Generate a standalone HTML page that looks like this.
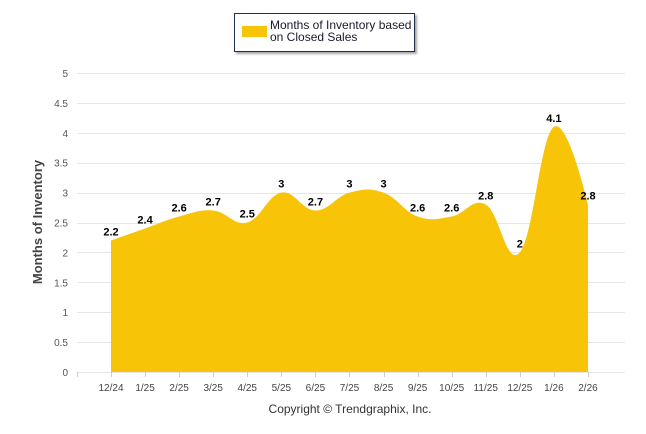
<!DOCTYPE html>
<html><head><meta charset="utf-8"><style>
body{margin:0;background:#fff;}
svg{display:block;font-family:"Liberation Sans",Arial,sans-serif;}
</style></head><body>
<svg id="c" width="646" height="434">
<g>
<rect x="234.5" y="13.5" width="180" height="38" fill="#fff" stroke="#1f2d4f" stroke-width="1" filter="drop-shadow(2px 2px 1px rgba(0,0,0,0.35))"/>
<rect x="242" y="26" width="25" height="11" fill="#f7c408"/>
<text x="270" y="29" font-size="12" fill="#1a1a2a">Months of Inventory based</text>
<text x="270" y="41" font-size="12" fill="#1a1a2a">on Closed Sales</text>
</g>
<g id="grid"></g>
<g id="area"></g>
<g id="labels"></g>
<text transform="translate(42,222) rotate(-90)" text-anchor="middle" font-size="13" font-weight="bold" fill="#444">Months of Inventory</text>
<text x="350" y="413" text-anchor="middle" font-size="12" fill="#333">Copyright © Trendgraphix, Inc.</text>
</svg>
<script>
const categories=["12/24","1/25","2/25","3/25","4/25","5/25","6/25","7/25","8/25","9/25","10/25","11/25","12/25","1/26","2/26"];
const values=[2.2,2.4,2.6,2.7,2.5,3,2.7,3,3,2.6,2.6,2.8,2,4.1,2.8];
const yTicks=[0,0.5,1,1.5,2,2.5,3,3.5,4,4.5,5];
const NS="http://www.w3.org/2000/svg";
const x=i=>111+i*34.07, y=v=>372-v*59.8;
function mk(t,a,p){const e=document.createElementNS(NS,t);for(const k in a)e.setAttribute(k,a[k]);p.appendChild(e);return e;}
const grid=document.getElementById('grid');
yTicks.forEach(t=>{
 const l=mk('line',{x1:77,x2:625,y1:Math.round(y(t))+0.5,y2:Math.round(y(t))+0.5,stroke:'#e6e6e6'},grid);
 
 
 const tx=mk('text',{x:68,y:y(t)+4,'text-anchor':'end','font-size':'10',fill:'#555'},grid);
 tx.textContent=String(t);
 
 
});
mk('line',{x1:77.5,x2:77.5,y1:372,y2:377,stroke:'#ccc'},grid);
categories.forEach((c,i)=>{
 mk('line',{x1:Math.round(x(i))+0.5,x2:Math.round(x(i))+0.5,y1:372,y2:377,stroke:'#ccc'},grid);
 const tx=mk('text',{x:x(i),y:391,'text-anchor':'middle','font-size':'10',fill:'#444'},grid);
 tx.textContent=c;
 
 
});
const pts=values.map((v,i)=>[x(i),y(v)]);
function ctrl(i){
 const p=pts[i],a=pts[i-1],b=pts[i+1],t=0.2;
 const dx=b[0]-a[0],dy=b[1]-a[1];
 return {l:[p[0]-dx*t,p[1]-dy*t],r:[p[0]+dx*t,p[1]+dy*t]};
}
const C=pts.map((p,i)=>(i>0&&i<pts.length-1)?ctrl(i):{l:p,r:p});
let d=`M${pts[0][0]},${y(0)} L${pts[0][0]},${pts[0][1]}`;
for(let i=1;i<pts.length;i++){const a=C[i-1].r,b=C[i].l;d+=` C${a[0]},${a[1]} ${b[0]},${b[1]} ${pts[i][0]},${pts[i][1]}`;}
d+=` L${pts[pts.length-1][0]},${y(0)} Z`;
const ar=mk('path',{d:d,fill:'#f7c408'},document.getElementById('area'));


const lg=document.getElementById('labels');
values.forEach((v,i)=>{
 const t=mk('text',{x:x(i),y:y(v)-5,'text-anchor':'middle','font-size':'11','font-weight':'bold',fill:'#000'},lg);
 t.textContent=String(v);
 
 
});
</script>
</body></html>
